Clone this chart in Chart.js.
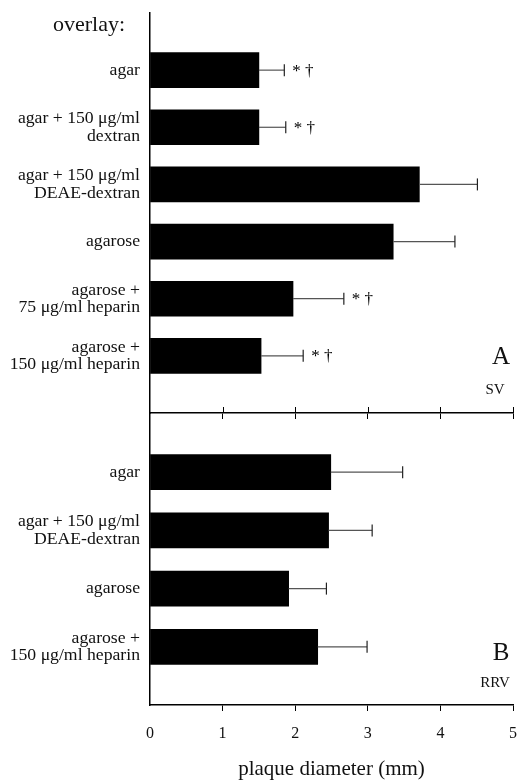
<!DOCTYPE html>
<html>
<head>
<meta charset="utf-8">
<script src="https://cdn.jsdelivr.net/npm/chart.js@4.4.1/dist/chart.umd.min.js"></script>
<style>
  html, body { margin: 0; padding: 0; background: #fff; }
  #wrap { position: relative; width: 517px; height: 780px; overflow: hidden; }
  #chartA { position: absolute; left: 0; top: 0; }
  #chartB { position: absolute; left: 0; top: 405px; }
</style>
</head>
<body>
<div id="wrap">
  <canvas id="chartA" width="517" height="420"></canvas>
  <canvas id="chartB" width="517" height="375"></canvas>
</div>
<script>
// panel A - SV
const svCategories = [
  'agar',
  ['agar + 150 μg/ml', 'dextran'],
  ['agar + 150 μg/ml', 'DEAE-dextran'],
  'agarose',
  ['agarose +', '75 μg/ml heparin'],
  ['agarose +', '150 μg/ml heparin']
];
const svMeans = [1.50, 1.50, 3.71, 3.35, 1.97, 1.53];
const svErrors = [0.35, 0.37, 0.80, 0.85, 0.70, 0.58];
const svMarks = ['* †', '* †', '', '', '* †', '* †'];

// panel B - RRV
const rrvCategories = [
  'agar',
  ['agar + 150 μg/ml', 'DEAE-dextran'],
  'agarose',
  ['agarose +', '150 μg/ml heparin']
];
const rrvMeans = [2.49, 2.46, 1.91, 2.31];
const rrvErrors = [0.99, 0.60, 0.52, 0.68];
const rrvMarks = ['', '', '', ''];

const xTickValues = [0, 1, 2, 3, 4, 5];
const serif = '"Liberation Serif", "DejaVu Serif", serif';

const errorBars = {
  id: 'errorBars',
  afterDatasetsDraw(chart) {
    const ds = chart.data.datasets[0];
    const meta = chart.getDatasetMeta(0);
    const xs = chart.scales.x;
    const ctx = chart.ctx;
    ctx.save();
    ctx.font = '17px ' + serif;
    meta.data.forEach((bar, i) => {
      const v = ds.data[i];
      const e = ds.errors[i];
      if (v == null) return;
      const x0 = xs.getPixelForValue(v);
      const x1 = xs.getPixelForValue(v + e);
      const y = bar.y;
      ctx.strokeStyle = '#555';
      ctx.lineWidth = 1.2;
      ctx.beginPath(); ctx.moveTo(x0, y); ctx.lineTo(x1, y); ctx.stroke();
      ctx.strokeStyle = '#222';
      ctx.beginPath(); ctx.moveTo(x1, y - 6); ctx.lineTo(x1, y + 6); ctx.stroke();
      if (ds.marks[i]) {
        ctx.fillStyle = '#000';
        ctx.textAlign = 'left';
        ctx.textBaseline = 'middle';
        ctx.fillText(ds.marks[i], x1 + 8, y + 1);
      }
    });
    ctx.restore();
  }
};

const panelText = {
  id: 'panelText',
  afterDraw(chart, args, opts) {
    const { ctx, chartArea } = chart;
    const xs = chart.scales.x;
    ctx.save();
    ctx.fillStyle = '#111';
    ctx.textAlign = 'center';
    ctx.textBaseline = 'middle';
    ctx.font = '25px ' + serif;
    ctx.fillText(opts.letter, chartArea.right - 12, chartArea.bottom + opts.letterDy);
    ctx.font = '15px ' + serif;
    ctx.fillText(opts.virus, chartArea.right - 18, chartArea.bottom + opts.virusDy);
    if (opts.heading) {
      ctx.font = '22px ' + serif;
      ctx.fillText(opts.heading, 89, 25);
    }
    // ticks in panel A cross the axis
    if (opts.upTicks) {
      ctx.strokeStyle = '#000';
      ctx.lineWidth = 1;
      xs.ticks.forEach(t => {
        if (t.value === 0) return;
        const px = Math.round(xs.getPixelForValue(t.value)) + 0.5;
        ctx.beginPath(); ctx.moveTo(px, chartArea.bottom - 6); ctx.lineTo(px, chartArea.bottom); ctx.stroke();
      });
    }
    ctx.restore();
  }
};

function buildChart(id, cats, means, errs, marks, cfg) {
  return new Chart(document.getElementById(id), {
    type: 'bar',
    data: {
      labels: ['', ...cats, ''],
      datasets: [{
        data: [null, ...means, null],
        errors: [null, ...errs, null],
        marks: ['', ...marks, ''],
        backgroundColor: '#000',
        borderWidth: 0,
        barThickness: 35
      }]
    },
    options: {
      indexAxis: 'y',
      responsive: false,
      animation: false,
      layout: { padding: { top: cfg.padTop, right: 4, left: 0, bottom: 0 } },
      plugins: {
        legend: { display: false },
        tooltip: { enabled: false },
        panelText: cfg.panel
      },
      scales: {
        x: {
          type: 'linear',
          min: 0,
          max: 5,
          afterBuildTicks: s => { s.ticks = xTickValues.map(v => ({ value: v })); },
          afterFit: s => {
            s.height = cfg.xHeight;
            s.paddingLeft = 0;
            s.paddingRight = 0;
          },
          grid: {
            drawOnChartArea: false,
            drawTicks: true,
            tickLength: 6,
            lineWidth: 1,
            color: c => (c.tick && c.tick.value === 0) ? 'rgba(0,0,0,0)' : '#000'
          },
          border: { display: true, color: '#000', width: 1.5 },
          ticks: {
            display: cfg.showTicks,
            padding: 13,
            color: '#111',
            font: { family: serif, size: 16 }
          },
          title: {
            display: cfg.showTicks,
            text: 'plaque diameter (mm)',
            color: '#111',
            font: { family: serif, size: 21, lineHeight: 1 },
            padding: { top: 0, bottom: 0 }
          }
        },
        y: {
          type: 'category',
          offset: false,
          afterFit: s => {
            s.width = 150;
            s.paddingTop = 0;
            s.paddingBottom = 0;
          },
          grid: { display: false, drawTicks: false },
          border: { display: true, color: '#000', width: 1.5 },
          ticks: {
            autoSkip: false,
            padding: 10,
            color: '#111',
            font: { family: serif, size: 17.7, lineHeight: 1.0 }
          }
        }
      }
    },
    plugins: [errorBars, panelText]
  });
}

buildChart('chartA', svCategories, svMeans, svErrors, svMarks, {
  padTop: 13, xHeight: 7, showTicks: false,
  panel: { letter: 'A', virus: 'SV', letterDy: -56, virusDy: -23, heading: 'overlay:', upTicks: true }
});

buildChart('chartB', rrvCategories, rrvMeans, rrvErrors, rrvMarks, {
  padTop: 9, xHeight: 75, showTicks: true,
  panel: { letter: 'B', virus: 'RRV', letterDy: -52, virusDy: -22, heading: '', upTicks: false }
});
</script>
</body>
</html>
